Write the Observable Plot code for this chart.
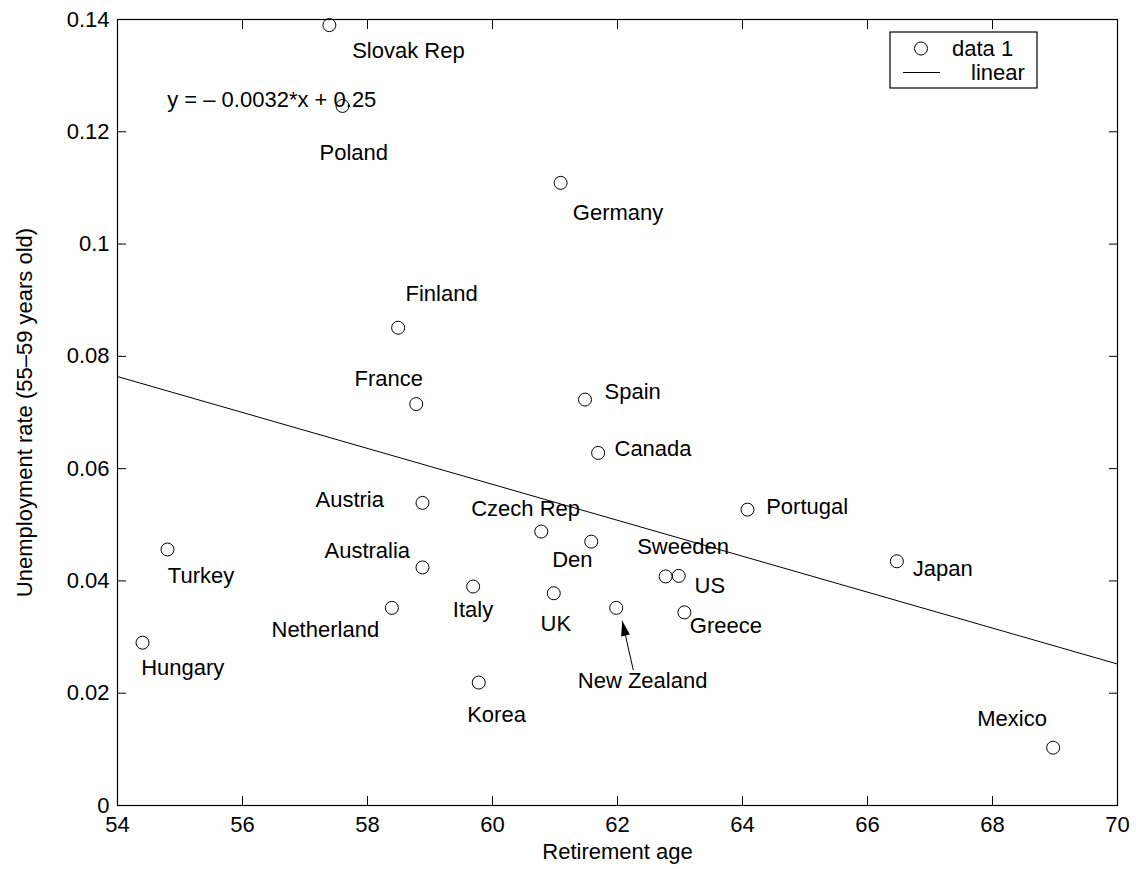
<!DOCTYPE html>
<html>
<head>
<meta charset="utf-8">
<script src="https://cdn.jsdelivr.net/npm/d3@7"></script>
<script src="https://cdn.jsdelivr.net/npm/@observablehq/plot@0.6"></script>
<style>
  html, body { margin: 0; padding: 0; background: #fff; }
  svg { display: block; }
</style>
</head>
<body>
<div id="chart"></div>
<script>
// ---- data ----
const countries = ["Slovak Rep","Poland","Germany","Finland","France","Spain","Canada","Austria","Czech Rep","Den","Australia","Italy","UK","Netherland","New Zealand","Sweeden","US","Greece","Korea","Turkey","Hungary","Portugal","Japan","Mexico"];
const retirementAge = [57.39,57.60,61.09,58.49,58.78,61.48,61.69,58.88,60.78,61.58,58.88,59.69,60.98,58.39,61.98,62.77,62.98,63.07,59.78,54.80,54.40,64.08,66.47,68.97];
const unemployment = [0.1390,0.1246,0.1109,0.0851,0.0715,0.0723,0.0628,0.0539,0.0488,0.0470,0.0424,0.0390,0.0378,0.0352,0.0352,0.0408,0.0409,0.0344,0.0219,0.0456,0.0290,0.0527,0.0435,0.0103];
// label anchor points (data units, text starts here)
const labelX = [57.755,57.232,61.285,58.608,57.792,61.792,61.952,57.168,59.659,60.955,57.312,59.365,60.768,56.464,61.365,62.315,63.232,63.157,59.595,54.805,54.379,64.379,66.725,67.755];
const labelY = [0.1344,0.1162,0.1056,0.0912,0.0759,0.0737,0.0635,0.0544,0.0529,0.0438,0.0453,0.0348,0.0324,0.0312,0.0222,0.0460,0.0391,0.0320,0.0161,0.0409,0.0245,0.0532,0.0422,0.0155];
// linear fit endpoints
const fitX = [54, 70];
const fitY = [0.0764, 0.0252];
const equationText = "y = \u2013 0.0032*x + 0.25";
const equationX = 54.795, equationY = 0.1256;
// New Zealand arrow
const arrowFrom = {x: 62.253, y: 0.0241};
const arrowTo = {x: 62.075, y: 0.0329};
// ticks
const xTicks = [54,56,58,60,62,64,66,68,70];
const yTicks = [0,0.02,0.04,0.06,0.08,0.10,0.12,0.14];
const xLabel = "Retirement age";
const yLabel = "Unemployment rate (55\u201359 years old)";
const legendItems = ["data 1", "linear"];

// ---- build ----
const points = countries.map((c, i) => ({c, x: retirementAge[i], y: unemployment[i]}));
const labels = countries.map((c, i) => ({c, x: labelX[i], y: labelY[i]}));
const fit = fitX.map((x, i) => ({x, y: fitY[i]}));

const W = 1136, H = 869, mL = 117, mR = 19, mT = 19, mB = 64;
const FONT = "'Liberation Sans', Arial, Helvetica, sans-serif";
const fmt = d => String(+d.toFixed(2));

const headSymbol = {
  draw(ctx) {
    ctx.moveTo(0, 0);
    ctx.lineTo(-4.5, 15);
    ctx.lineTo(4.5, 15);
    ctx.closePath();
  }
};

const chart = Plot.plot({
  width: W, height: H,
  marginLeft: mL, marginRight: mR, marginTop: mT, marginBottom: mB,
  style: {fontFamily: FONT, fontSize: "22px", color: "black", background: "white"},
  x: {domain: [54, 70]},
  y: {domain: [0, 0.14]},
  marks: [
    Plot.frame({stroke: "black", strokeWidth: 1.2}),
    Plot.axisX(xTicks, {anchor: "bottom", tickSize: -9, tickPadding: 20, tickFormat: fmt, label: null, stroke: "black", fill: "black"}),
    Plot.axisX(xTicks, {anchor: "top", tickSize: -9, tickFormat: () => "", label: null, stroke: "black"}),
    Plot.axisY(yTicks, {anchor: "left", tickSize: -9, tickPadding: 17, tickFormat: fmt, label: null, stroke: "black", fill: "black"}),
    Plot.axisY(yTicks, {anchor: "right", tickSize: -9, tickFormat: () => "", label: null, stroke: "black"}),
    Plot.line(fit, {x: "x", y: "y", stroke: "black", strokeWidth: 1}),
    Plot.dot(points, {x: "x", y: "y", r: 6.5, stroke: "black", fill: "none", strokeWidth: 1}),
    Plot.text(labels, {x: "x", y: "y", text: "c", textAnchor: "start", lineAnchor: "middle", fill: "black"}),
    Plot.text([equationText], {x: () => equationX, y: () => equationY, text: d => d, textAnchor: "start", lineAnchor: "middle", fill: "black"}),
    Plot.link([0], {x1: () => arrowFrom.x, y1: () => arrowFrom.y, x2: () => arrowTo.x, y2: () => arrowTo.y, stroke: "black", strokeWidth: 1}),
    Plot.dot([0], {x: () => arrowTo.x, y: () => arrowTo.y, symbol: headSymbol, rotate: -13, fill: "black", stroke: "none"}),
    Plot.text([xLabel], {frameAnchor: "bottom", dy: 46, text: d => d, fill: "black", textAnchor: "middle", lineAnchor: "middle"}),
    Plot.text([yLabel], {frameAnchor: "left", dx: -93, rotate: -90, text: d => d, fill: "black", textAnchor: "middle", lineAnchor: "middle"})
  ]
});

// legend box (top-right inside the frame)
const svg = d3.select(chart);
const lx = W - mR - 227, ly = mT + 13, lw = 147, lh = 56;
const g = svg.append("g").attr("font-family", FONT).attr("font-size", 22).attr("text-anchor", "start");
g.append("rect").attr("x", lx).attr("y", ly).attr("width", lw).attr("height", lh)
  .attr("fill", "white").attr("stroke", "black").attr("stroke-width", 1.2);
g.append("circle").attr("cx", lx + 31).attr("cy", ly + 16.5).attr("r", 6.5).attr("fill", "none").attr("stroke", "black");
g.append("text").attr("x", lx + 62).attr("y", ly + 16.5).attr("dy", "0.35em").attr("text-anchor", "start").attr("fill", "black").text(legendItems[0]);
g.append("line").attr("x1", lx + 13).attr("x2", lx + 50).attr("y1", ly + 40.5).attr("y2", ly + 40.5).attr("stroke", "black");
g.append("text").attr("x", lx + 81).attr("y", ly + 40.5).attr("dy", "0.35em").attr("text-anchor", "start").attr("fill", "black").text(legendItems[1]);

document.getElementById("chart").appendChild(chart);
</script>
</body>
</html>
